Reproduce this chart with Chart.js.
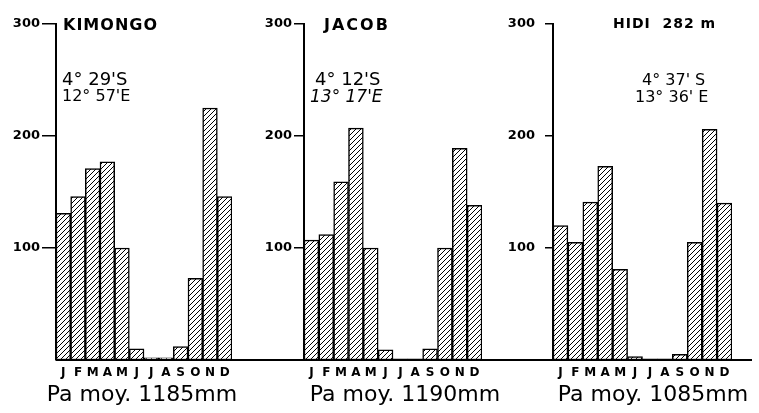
<!DOCTYPE html>
<html>
<head>
<meta charset="utf-8">
<script src="https://cdn.jsdelivr.net/npm/chart.js@4.4.1/dist/chart.umd.min.js"></script>
<style>
  body { margin: 0; background: #fff; width: 759px; height: 413px; overflow: hidden; position: relative; }
  .box { position: absolute; top: 0; height: 413px; }
</style>
</head>
<body>
<div class="box" style="left:0;width:250px"><canvas id="c1"></canvas></div>
<div class="box" style="left:250px;width:250px"><canvas id="c2"></canvas></div>
<div class="box" style="left:500px;width:259px"><canvas id="c3"></canvas></div>
<script>
// monthly rainfall (mm)
var months = ['J', 'F', 'M', 'A', 'M', 'J', 'J', 'A', 'S', 'O', 'N', 'D'];
var kimongo = [131, 146, 171, 177, 100, 10, 2, 2, 12, 73, 225, 146];
var jacob = [107, 112, 159, 207, 100, 9, 1, 1, 10, 100, 189, 138];
var hidi = [120, 105, 141, 173, 81, 3, 1, 1, 5, 105, 206, 140];
var yTicks = [100, 200, 300];

function hatch(){
    var c = document.createElement('canvas');
    c.width = 5; c.height = 5;
    var g = c.getContext('2d');
    g.fillStyle = '#fff';
    g.fillRect(0, 0, 5, 5);
    g.strokeStyle = '#000';
    g.lineWidth = 1;
    g.beginPath();
    g.moveTo(-1, 6); g.lineTo(6, -1);
    g.moveTo(-1, 1); g.lineTo(1, -1);
    g.moveTo(4, 6); g.lineTo(6, 4);
    g.stroke();
    return g.createPattern(c, 'repeat');
}

// texts and the long baseline
var notes = {
    id: 'notes',
    afterDraw(chart, args, opts){
        var ctx = chart.ctx;
        var y0 = chart.scales.y.getPixelForValue(0);
        ctx.save();
        ctx.strokeStyle = '#000';
        ctx.lineWidth = 2;
        ctx.beginPath();
        ctx.moveTo(opts.lineFrom == null ? chart.chartArea.left : opts.lineFrom, y0);
        ctx.lineTo(opts.lineTo, y0);
        ctx.stroke();
        ctx.fillStyle = '#000';
        ctx.textBaseline = 'alphabetic';
        opts.items.forEach(function(t){
            ctx.font = t.font;
            ctx.textAlign = t.align || 'left';
            ctx.letterSpacing = t.spacing || '0px';
            ctx.fillText(t.text, t.x, t.y);
        });
        ctx.restore();
    }
};

function makeChart(id, values, axisW, tickLen, tickPad, padRight, lineFrom, lineTo, items){
    var ctx = document.getElementById(id).getContext('2d');
    return new Chart(ctx, {
        type: 'bar',
        data: {
            labels: months,
            datasets: [{
                data: values,
                backgroundColor: hatch(),
                borderColor: '#000',
                borderWidth: 1.5,
                borderSkipped: false,
                barPercentage: 1,
                categoryPercentage: 1
            }]
        },
        options: {
            responsive: true,
            maintainAspectRatio: false,
            animation: false,
            layout: { padding: { top: 24, right: padRight, left: 0, bottom: 0 } },
            plugins: { legend: { display: false }, tooltip: { enabled: false }, notes: { items: items, lineFrom: lineFrom, lineTo: lineTo } },
            scales: {
                x: {
                    grid: { display: false, drawTicks: false },
                    border: { display: false },
                    ticks: { color: '#000', padding: 6, font: { family: 'DejaVu Sans', weight: 'bold', size: 12 }, maxRotation: 0, autoSkip: false },
                    afterFit: function(s){ s.height = 53; }
                },
                y: {
                    min: 0, max: 300,
                    afterBuildTicks: function(s){ s.ticks = yTicks.map(function(v){ return { value: v }; }); },
                    grid: { drawOnChartArea: false, drawTicks: true, tickLength: tickLen, color: '#000', lineWidth: 1.5 },
                    border: { display: true, color: '#000', width: 2 },
                    ticks: { color: '#000', padding: tickPad, font: { family: 'DejaVu Sans', weight: 'bold', size: 13 } },
                    afterFit: function(s){ s.width = axisW; }
                }
            }
        },
        plugins: [notes]
    });
}

makeChart('c1', kimongo, 56, 14, 2, 18, null, 250, [
    { text: 'KIMONGO', x: 63, y: 30, font: 'bold 16px DejaVu Sans', spacing: '1px' },
    { text: "4° 29'S", x: 62, y: 85, font: '18px DejaVu Sans' },
    { text: "12° 57'E", x: 62, y: 101, font: '16px DejaVu Sans' },
    { text: 'Pa moy. 1185mm', x: 142, y: 401, font: '22px DejaVu Sans', align: 'center' }
]);

makeChart('c2', jacob, 54, 10, 2, 18, 0, 250, [
    { text: 'JACOB', x: 74, y: 30, font: 'bold 16px DejaVu Sans', spacing: '2px' },
    { text: "4° 12'S", x: 65, y: 85, font: '18px DejaVu Sans' },
    { text: "13° 17'E", x: 60, y: 102, font: 'italic 17px DejaVu Sans' },
    { text: 'Pa moy. 1190mm', x: 155, y: 401, font: '22px DejaVu Sans', align: 'center' }
]);

makeChart('c3', hidi, 53, 8, 10, 27, 0, 252, [
    { text: 'HIDI  282 m', x: 113, y: 28, font: 'bold 14px DejaVu Sans', spacing: '1px' },
    { text: "4° 37' S", x: 142, y: 85, font: '16px DejaVu Sans' },
    { text: "13° 36' E", x: 135, y: 102, font: '16px DejaVu Sans' },
    { text: 'Pa moy. 1085mm', x: 153, y: 401, font: '22px DejaVu Sans', align: 'center' }
]);
</script>
</body>
</html>
